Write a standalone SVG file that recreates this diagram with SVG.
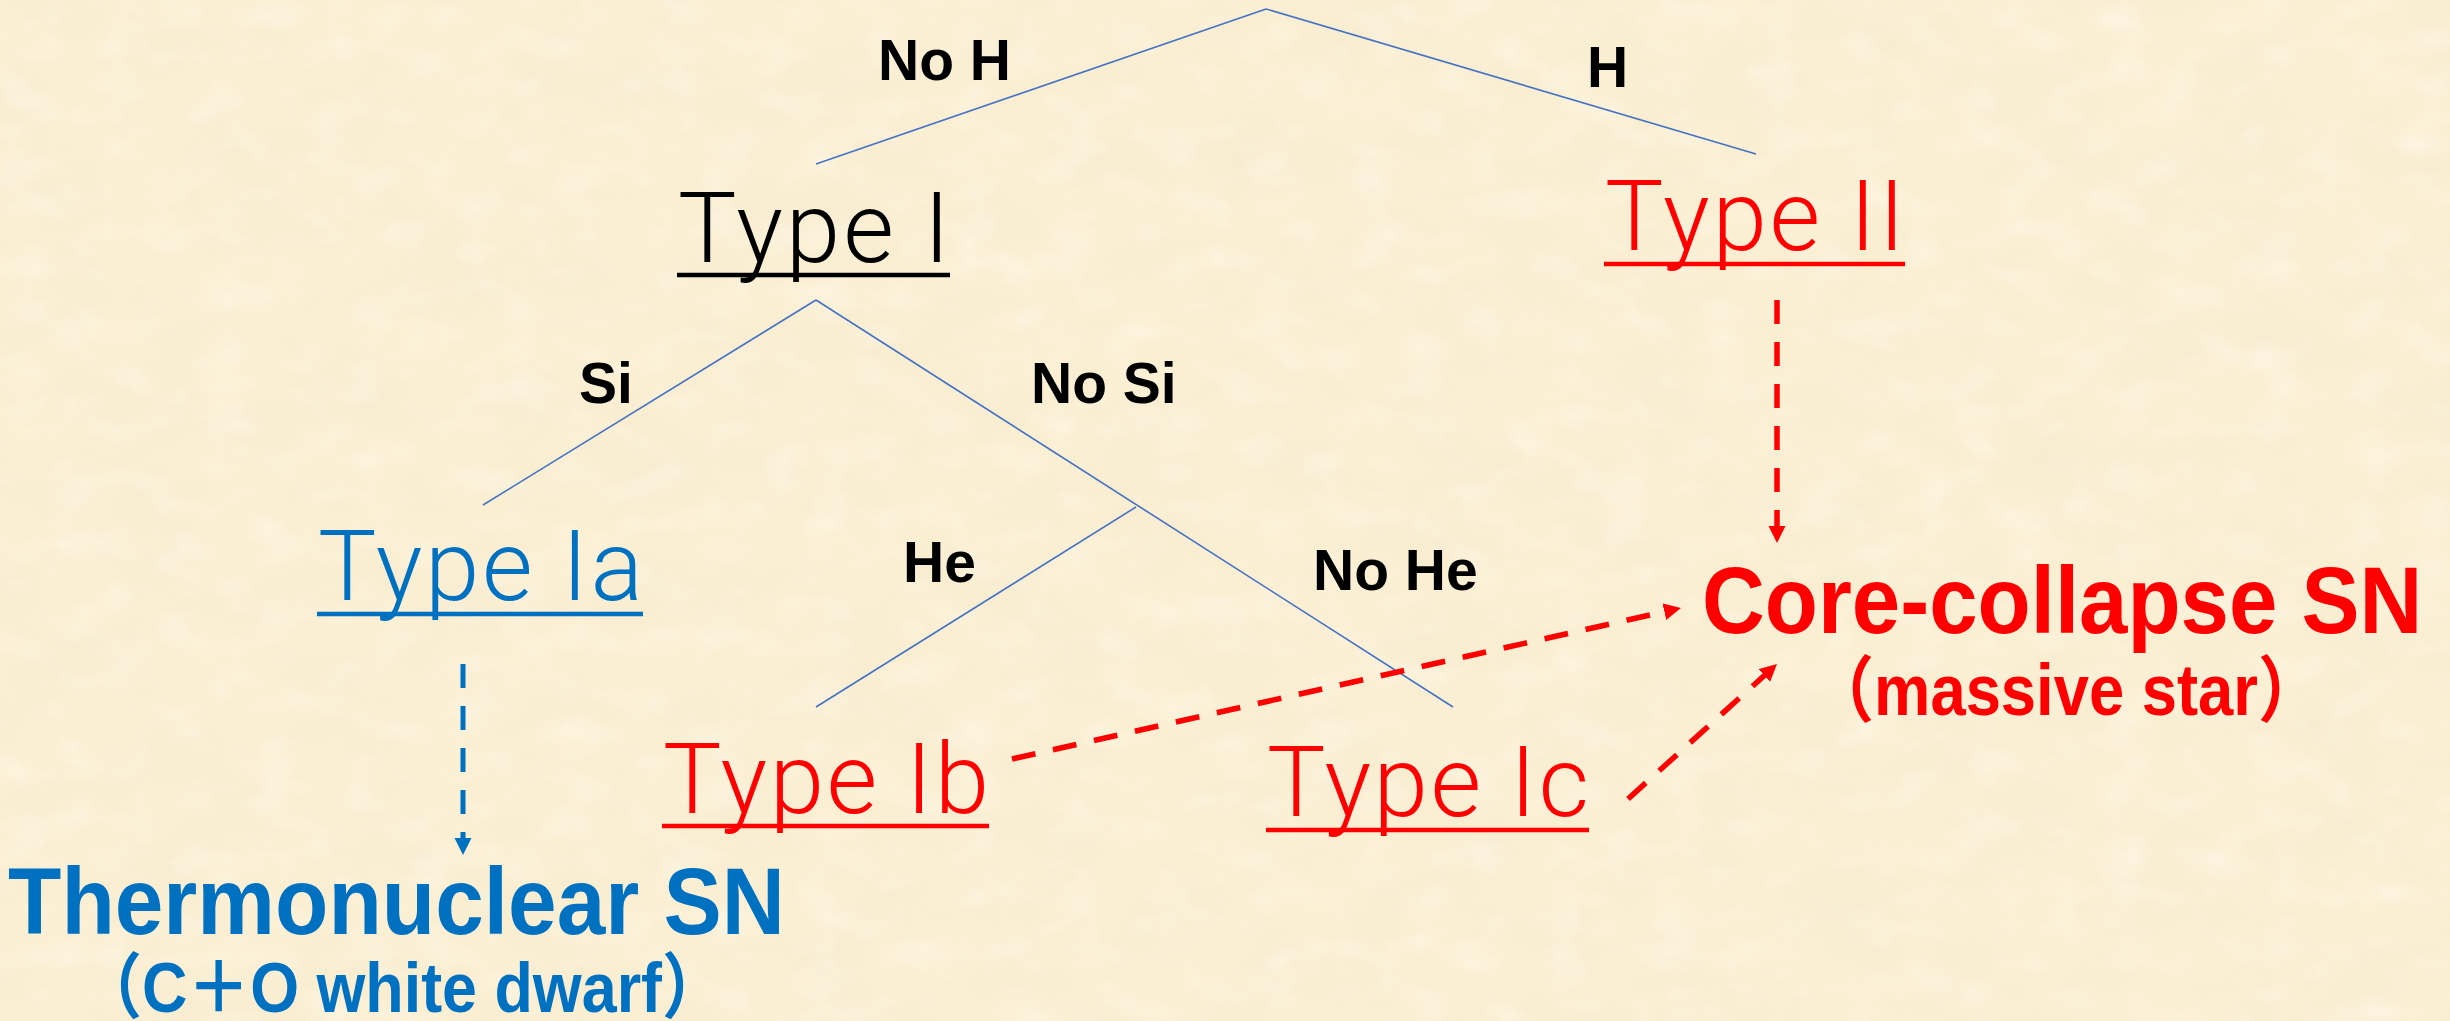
<svg xmlns="http://www.w3.org/2000/svg" width="2450" height="1021" viewBox="0 0 2450 1021">
  <defs>
    <style>
      .type { font-family: Roboto, "Liberation Sans", Arial, sans-serif; font-size: 98px; font-weight: 300; }
      .cond { font-family: "Liberation Sans", Arial, sans-serif; font-size: 57px; font-weight: bold; fill: #000; }
      .big  { font-family: "Liberation Sans", Arial, sans-serif; font-size: 95px; font-weight: bold; }
      .sub  { font-family: "Liberation Sans", Arial, "Noto Sans CJK JP", sans-serif; font-weight: bold; }
      .blk { fill: #000; }
      .red { fill: #FF0000; }
      .blu { fill: #0070C0; }
      .ul-blk { stroke: #000; stroke-width: 4.5; }
      .ul-red { stroke: #FF0000; stroke-width: 4.5; }
      .ul-blu { stroke: #0070C0; stroke-width: 4.5; }
      .branch { stroke: #4472C4; stroke-width: 1.6; fill: none; }
      .dash-red { stroke: #FF0000; stroke-width: 5.5; stroke-dasharray: 24 18; fill: none; marker-end: url(#head-red); }
      .dash-blu { stroke: #0070C0; stroke-width: 5; stroke-dasharray: 24 18; fill: none; marker-end: url(#head-blu); }
    </style>
    <marker id="head-red" markerUnits="userSpaceOnUse" markerWidth="18" markerHeight="18" refX="7" refY="8.5" orient="auto">
      <path d="M0,0 L17,8.5 L0,17 Z" fill="#FF0000"/>
    </marker>
    <marker id="head-blu" markerUnits="userSpaceOnUse" markerWidth="18" markerHeight="18" refX="7" refY="8.5" orient="auto">
      <path d="M0,0 L17,8.5 L0,17 Z" fill="#0070C0"/>
    </marker>
    <filter id="paper" x="0" y="0" width="100%" height="100%">
      <feTurbulence type="fractalNoise" baseFrequency="0.01 0.016" numOctaves="4" seed="7" result="n"/>
      <feColorMatrix in="n" type="matrix" values="0 0 0 0 0.90  0 0 0 0 0.82  0 0 0 0 0.62  0 0 0 1.6 -0.6"/>
    </filter>
    <filter id="specks" x="0" y="0" width="100%" height="100%">
      <feTurbulence type="fractalNoise" baseFrequency="0.02 0.032" numOctaves="3" seed="21" result="n"/>
      <feColorMatrix in="n" type="matrix" values="0 0 0 0 1  0 0 0 0 0.98  0 0 0 0 0.92  0 0 0 1.8 -0.85"/>
      <feGaussianBlur stdDeviation="1.5"/>
    </filter>
  </defs>

  <!-- parchment background -->
  <rect width="2450" height="1021" fill="#FBEFD3"/>
  <rect width="2450" height="1021" filter="url(#paper)" opacity="0.55"/>
  <rect width="2450" height="1021" filter="url(#specks)" opacity="0.5"/>

  <!-- classification tree branches and dashed arrows -->
  <g id="connectors">
    <line class="branch" x1="1266" y1="9" x2="816" y2="164"/>
    <line class="branch" x1="1266" y1="9" x2="1756" y2="154"/>
    <line class="branch" x1="816" y1="300" x2="483" y2="505"/>
    <line class="branch" x1="816" y1="300" x2="1453" y2="707"/>
    <line class="branch" x1="1136" y1="507" x2="816" y2="707"/>

    <line class="dash-blu" x1="463" y1="664" x2="463" y2="845"/>
    <line class="dash-red" x1="1777" y1="300" x2="1777" y2="533"/>
    <line class="dash-red" x1="1012" y1="759" x2="1671.2" y2="610.2"/>
    <line class="dash-red" x1="1628" y1="799" x2="1769.6" y2="670.7"/>
  </g>

  <!-- branch labels -->
  <g id="labels">
    <text class="cond" x="878" y="80">No H</text>
    <text class="cond" x="1587" y="87">H</text>
    <text class="cond" x="579" y="403">Si</text>
    <text class="cond" x="1031" y="403">No Si</text>
    <text class="cond" x="903" y="582">He</text>
    <text class="cond" x="1313" y="590">No He</text>
  </g>

  <g id="type-i">
    <text class="type blk" x="678" y="262" textLength="272" lengthAdjust="spacing">Type I</text>
    <line class="ul-blk" x1="677" y1="275" x2="950" y2="275"/>
  </g>

  <g id="type-ii">
    <text class="type red" x="1605" y="250" textLength="300" lengthAdjust="spacing">Type II</text>
    <line class="ul-red" x1="1604" y1="264" x2="1905" y2="264"/>
  </g>

  <g id="type-ia">
    <text class="type blu" x="318" y="600" textLength="325" lengthAdjust="spacing">Type Ia</text>
    <line class="ul-blu" x1="317" y1="614" x2="643" y2="614"/>
  </g>

  <g id="type-ib">
    <text class="type red" x="663" y="813" textLength="326" lengthAdjust="spacing">Type Ib</text>
    <line class="ul-red" x1="662" y1="826" x2="989" y2="826"/>
  </g>

  <g id="type-ic">
    <text class="type red" x="1267" y="816" textLength="322" lengthAdjust="spacing">Type Ic</text>
    <line class="ul-red" x1="1266" y1="830" x2="1589" y2="830"/>
  </g>

  <g id="core-collapse">
    <text class="big red" transform="translate(1702,633) scale(0.916,1)">Core-collapse SN</text>
    <text class="sub red" transform="translate(2066,715) scale(0.88,1)" font-size="72" text-anchor="middle">（massive star）</text>
  </g>

  <g id="thermonuclear">
    <text class="big blu" transform="translate(8,934) scale(0.92,1)">Thermonuclear SN</text>
    <text class="sub blu" transform="translate(402,1012) scale(0.885,1)" font-size="71" text-anchor="middle">（C＋O white dwarf）</text>
  </g>
</svg>
